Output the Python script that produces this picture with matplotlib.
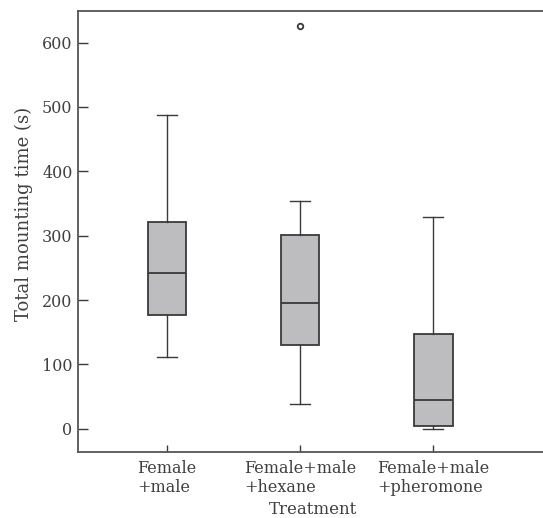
import matplotlib.pyplot as plt

# box statistics (seconds)
treatments = ['Female\n+male', 'Female+male\n+hexane', 'Female+male\n+pheromone']
whislo = [112, 38, -1]
q1 = [177, 130, 5]
med = [242, 196, 44]
q3 = [321, 301, 147]
whishi = [488, 354, 329]
fliers = [[], [625], []]

plt.rcParams['font.family'] = ['DejaVu Serif']

stats = []
for i in range(len(treatments)):
    stats.append(dict(label=treatments[i], whislo=whislo[i], q1=q1[i], med=med[i],
                      q3=q3[i], whishi=whishi[i], fliers=fliers[i]))

fig = plt.figure(figsize=(5.43, 5.18), dpi=100)
ax = fig.add_axes([78 / 543, 1 - 452 / 518, 470 / 543, 441 / 518])

line_col = '#3a3a3a'
text_col = '#404040'
ax.bxp(stats, positions=[1, 2, 3], widths=0.29, patch_artist=True,
       boxprops=dict(facecolor='#bdbdc0', edgecolor=line_col, linewidth=1.3),
       medianprops=dict(color=line_col, linewidth=1.3),
       whiskerprops=dict(color=line_col, linewidth=1.0),
       capprops=dict(color=line_col, linewidth=1.0),
       capwidths=0.15,
       flierprops=dict(marker='o', markersize=4, markerfacecolor='white',
                       markeredgecolor=line_col, markeredgewidth=1.3))

ax.set_xlim(0.333, 3.86)
ax.set_ylim(-36, 649)
ax.set_yticks([0, 100, 200, 300, 400, 500, 600])
ax.set_xticks([1, 2, 3])
ax.set_xticklabels(treatments, multialignment='left', linespacing=1.1, fontsize=12)

ax.tick_params(direction='in', width=1, color=line_col,
               labelsize=11.5, labelcolor=text_col)
ax.tick_params(axis='y', length=7, pad=4)
ax.tick_params(axis='x', length=5, pad=6)
for s in ax.spines.values():
    s.set_color('#555555')
    s.set_linewidth(1.3)

ax.set_ylabel('Total mounting time (s)', fontsize=13, color=text_col)
ax.yaxis.set_label_coords(-0.095, 0.54)
ax.set_xlabel('Treatment', fontsize=12, color=text_col, labelpad=4)

plt.savefig('out.png', dpi=100)
